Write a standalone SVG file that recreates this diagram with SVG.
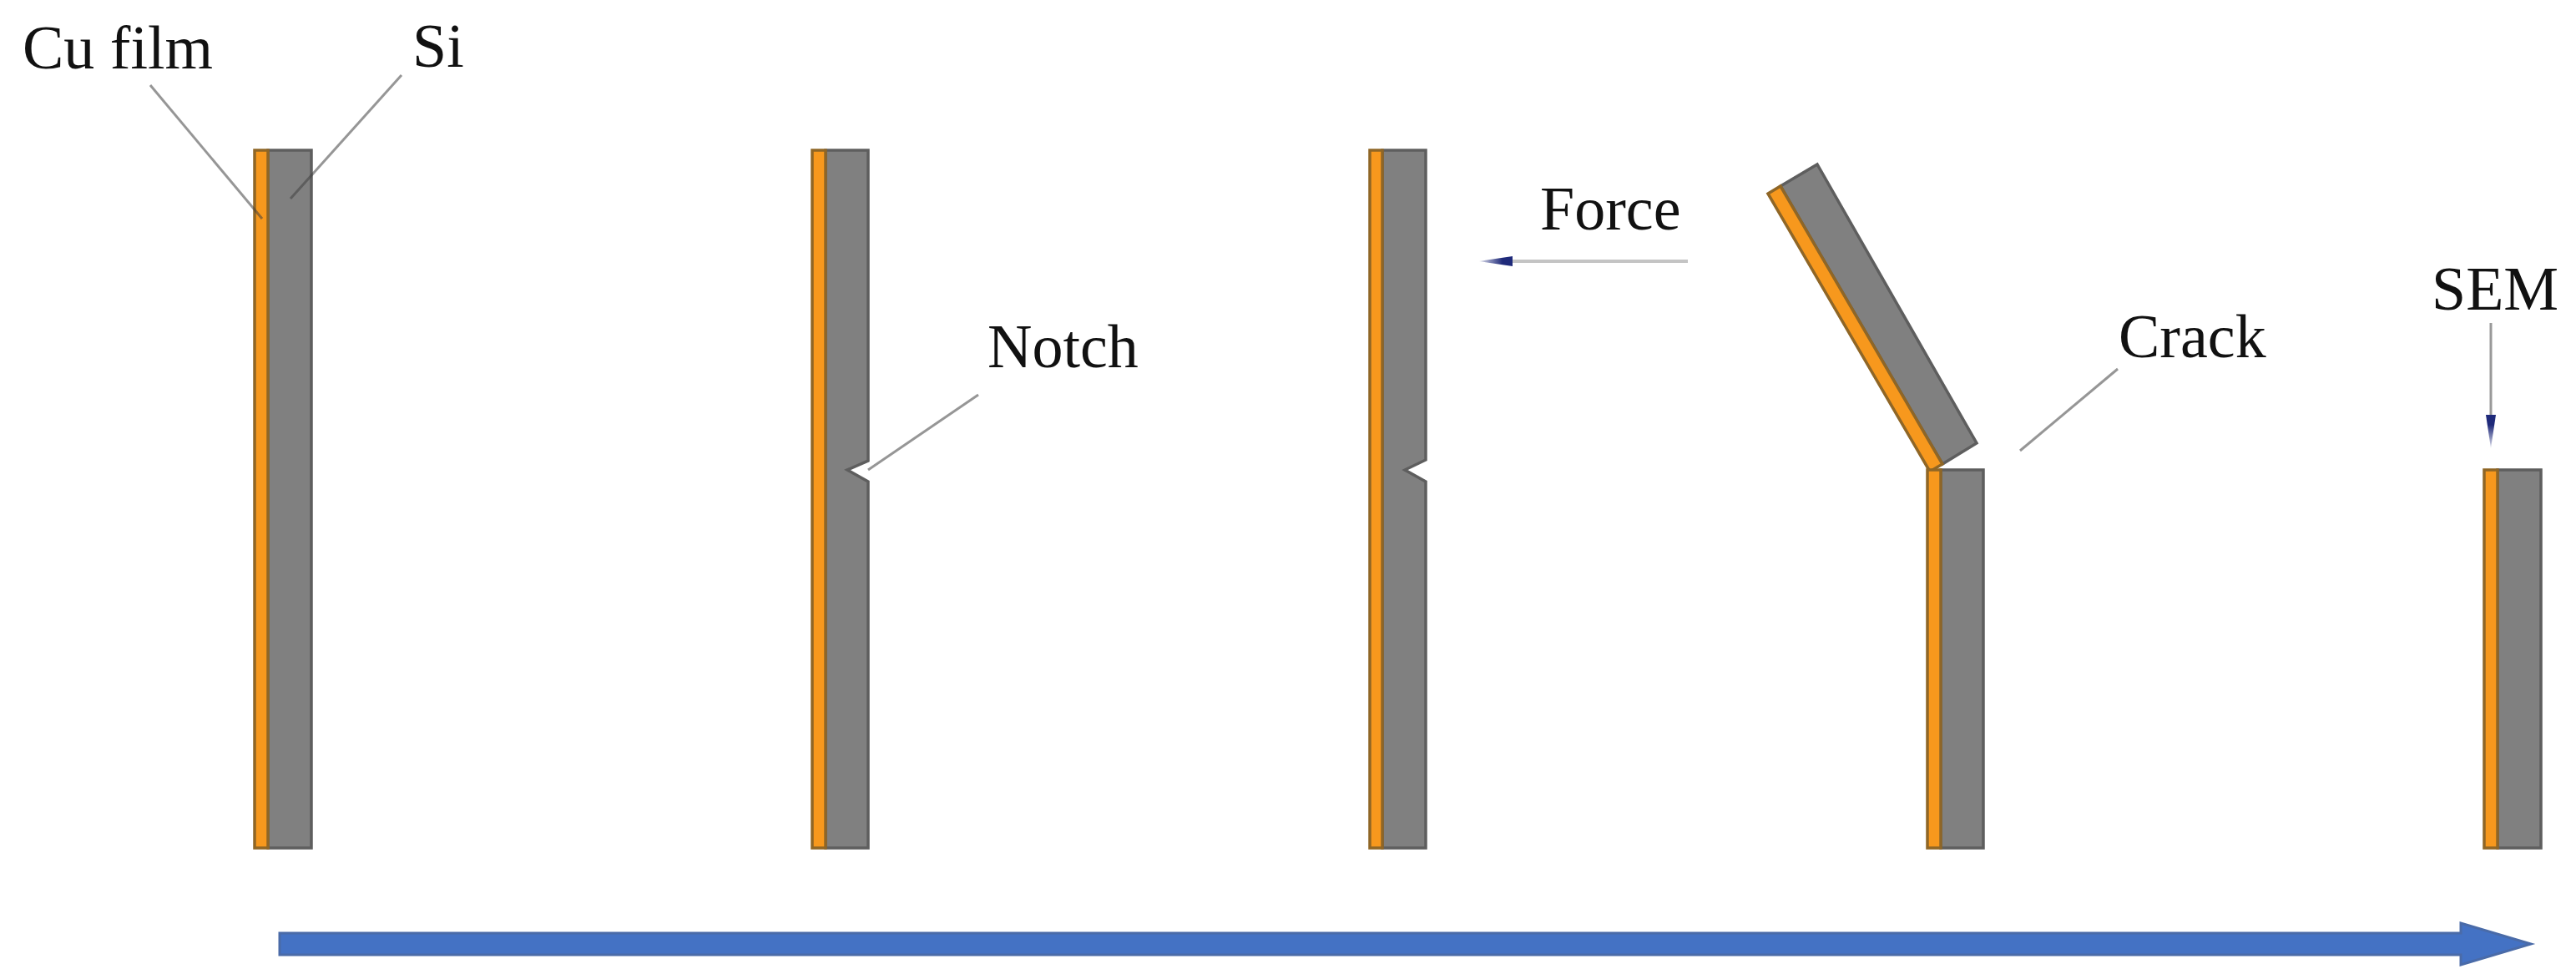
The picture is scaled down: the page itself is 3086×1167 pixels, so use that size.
<svg xmlns="http://www.w3.org/2000/svg" width="3086" height="1167" viewBox="0 0 3086 1167">
<style>
.si{fill:#808080;stroke:#5e5e5e;stroke-width:3.5}
.cu{fill:#f7981d;stroke:#8f6626;stroke-width:3.5}
.lbl{font-family:"Liberation Serif","Times New Roman",serif;font-size:74px;fill:#111}
.leader{stroke:#404040;stroke-opacity:.55;stroke-width:3;fill:none}
</style>
<defs>
<linearGradient id="fade" x1="0" y1="0" x2="1" y2="0">
<stop offset="0.3" stop-color="#1f2a7a"/>
<stop offset="1" stop-color="#1f2a7a" stop-opacity="0.15"/>
</linearGradient>
<marker id="head" markerUnits="userSpaceOnUse" markerWidth="42" markerHeight="14" refX="40" refY="7" orient="auto" viewBox="0 0 42 14">
<polygon points="0,1 40,7 0,13" fill="url(#fade)"/>
</marker>
</defs>
<rect width="3086" height="1167" fill="#fff"/>
<g id="specimen-1">
<rect class="si" x="321" y="180" width="52" height="836"/>
<rect class="cu" x="305" y="180" width="16" height="836"/>
</g>
<g id="specimen-2">
<path class="si" d="M989 180H1040V552L1015 563L1040 577V1016H989Z"/>
<rect class="cu" x="973" y="180" width="16" height="836"/>
</g>
<g id="specimen-3">
<path class="si" d="M1656 180H1708V551L1683 563L1708 577V1016H1656Z"/>
<rect class="cu" x="1641" y="180" width="15" height="836"/>
</g>
<g id="specimen-4">
<polygon class="si" points="2133,223 2177,197 2368,531 2327,556"/>
<polygon class="cu" points="2118,232 2133,223 2327,556 2312,565"/>
<rect class="si" x="2325" y="563" width="51" height="453"/>
<rect class="cu" x="2309" y="563" width="16" height="453"/>
</g>
<g id="specimen-5">
<rect class="si" x="2992" y="563" width="52" height="453"/>
<rect class="cu" x="2976" y="563" width="16" height="453"/>
</g>
<g id="connectors">
<line class="leader" x1="180" y1="102" x2="314" y2="262"/>
<line class="leader" x1="481" y1="90" x2="348" y2="238"/>
<line class="leader" x1="1172" y1="473" x2="1040" y2="563"/>
<line class="leader" x1="2537" y1="442" x2="2420" y2="540"/>
<line x1="2022" y1="313" x2="1812" y2="313" stroke="#c4c4c4" stroke-width="4"/>
<line x1="2984" y1="387" x2="2984" y2="497" stroke="#999" stroke-width="3"/>
<path d="M1813 313H1772" fill="none" stroke="#fff" stroke-opacity="0" marker-end="url(#head)"/>
<path d="M2984 497V537" fill="none" stroke="#fff" stroke-opacity="0" marker-end="url(#head)"/>
<polygon id="process-arrow" points="335,1118 2948,1118 2948,1106 3032,1131 2948,1156 2948,1144 335,1144" fill="#4472c4" stroke="#4a6ba8" stroke-width="3"/>
</g>
<g id="labels">
<text class="lbl" x="27" y="82">Cu film</text>
<text class="lbl" x="494" y="80">Si</text>
<text class="lbl" x="1183" y="440">Notch</text>
<text class="lbl" x="1845" y="275">Force</text>
<text class="lbl" x="2538" y="428">Crack</text>
<text class="lbl" x="2913" y="371">SEM</text>
</g>
</svg>
